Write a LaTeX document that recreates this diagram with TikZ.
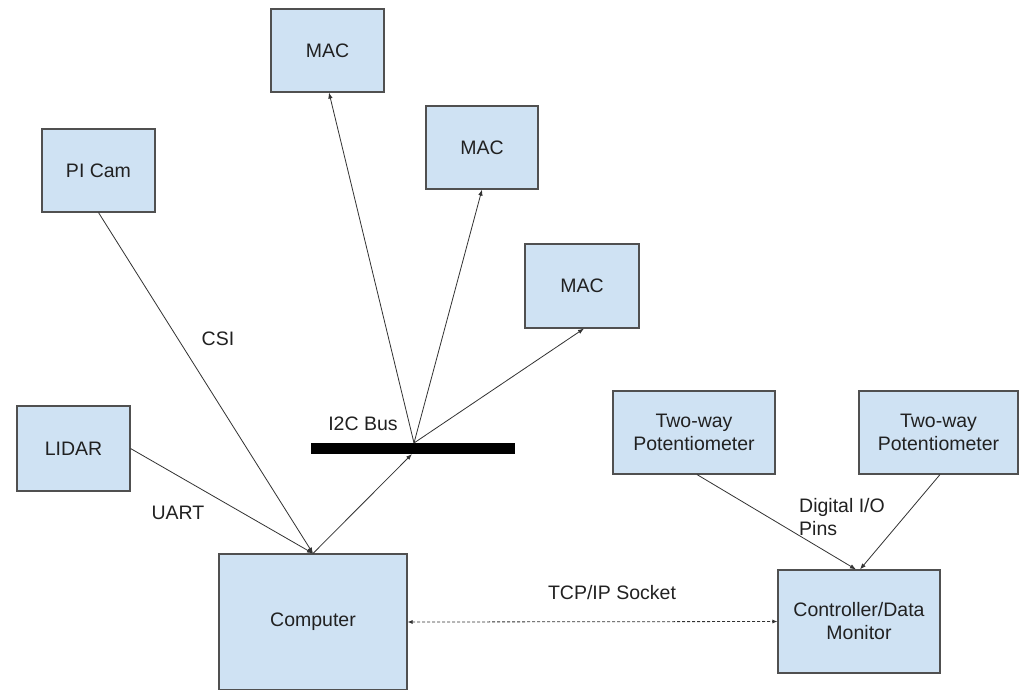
\documentclass[tikz,border=0pt]{standalone}
\usepackage{fontspec}
\setmainfont{Liberation Sans}
\usetikzlibrary{arrows.meta}
\definecolor{boxfill}{RGB}{207,226,243}
\definecolor{boxline}{RGB}{80,80,80}
\definecolor{txt}{RGB}{33,33,33}
\definecolor{wire}{RGB}{50,50,50}
\begin{document}
\begin{tikzpicture}[x=1pt,y=-1pt,
  box/.style={draw=boxline,line width=1.1pt,fill=boxfill,text=txt,align=center,inner sep=0pt,font=\fontsize{19.5}{23}\selectfont},
  lbl/.style={text=txt,inner sep=0pt,align=left,font=\fontsize{19.5}{23}\selectfont},
  wirearrow/.style={draw=wire,line width=0.8pt,-{Latex[length=6pt,width=4.5pt]}},
  dasharrow/.style={draw=wire,line width=0.8pt,dash pattern=on 3pt off 2pt,{Latex[length=5pt,width=4pt]}-{Latex[length=5pt,width=4pt]}}
]
\clip (0,0) rectangle (1026,689);
\fill[white] (0,0) rectangle (1026,689);

% boxes
\node[box,minimum width=113pt,minimum height=83pt] (mac1) at (327.5,50.5) {MAC};
\node[box,minimum width=112pt,minimum height=83pt] (mac2) at (482,147.5) {MAC};
\node[box,minimum width=114pt,minimum height=84pt] (mac3) at (582,286) {MAC};
\node[box,minimum width=113pt,minimum height=83pt] (picam) at (98.5,170.5) {PI Cam};
\node[box,minimum width=113pt,minimum height=85pt] (lidar) at (73.5,448.5) {LIDAR};
\node[box,minimum width=188pt,minimum height=136pt] (comp) at (313,622) {Computer};
\node[box,minimum width=162pt,minimum height=83pt] (pot1) at (694,432.5) {Two-way\\Potentiometer};
\node[box,minimum width=159pt,minimum height=83pt] (pot2) at (938.5,432.5) {Two-way\\Potentiometer};
\node[box,minimum width=162pt,minimum height=103pt] (ctrl) at (859,621.5) {Controller/Data\\Monitor};

% I2C bus bar
\node[fill=black,draw=none,minimum width=204pt,minimum height=11pt,inner sep=0pt] (bus) at (413,448.5) {};
\coordinate (bustop) at (414,443);
\coordinate (busbot) at (412,454);

% connectors
\draw[wirearrow] (picam.south) -- (comp.north);
\draw[wirearrow] (lidar.east) -- (comp.north);
\draw[wirearrow] (comp.north) -- (busbot);
\draw[wirearrow] (bustop) -- ([xshift=1.5pt]mac1.south);
\draw[wirearrow] (bustop) -- (mac2.south);
\draw[wirearrow] (bustop) -- ([xshift=2pt]mac3.south);
\draw[wirearrow] ([xshift=3pt]pot1.south) -- ([xshift=-3pt]ctrl.north);
\draw[wirearrow] ([xshift=1.5pt]pot2.south) -- ([xshift=1pt]ctrl.north);
\draw[dasharrow] (comp.east) -- (ctrl.west);

% labels
\node[lbl] (csi) at (218,339) {CSI};
\node[lbl] (uart) at (178,513) {UART};
\node[lbl] (i2c) at (363,424) {I2C Bus};
\node[lbl] (tcp) at (612,593) {TCP/IP Socket};
\node[lbl,anchor=north west] (dio) at (799,498) {Digital I/O\\Pins};
\end{tikzpicture}
\end{document}
